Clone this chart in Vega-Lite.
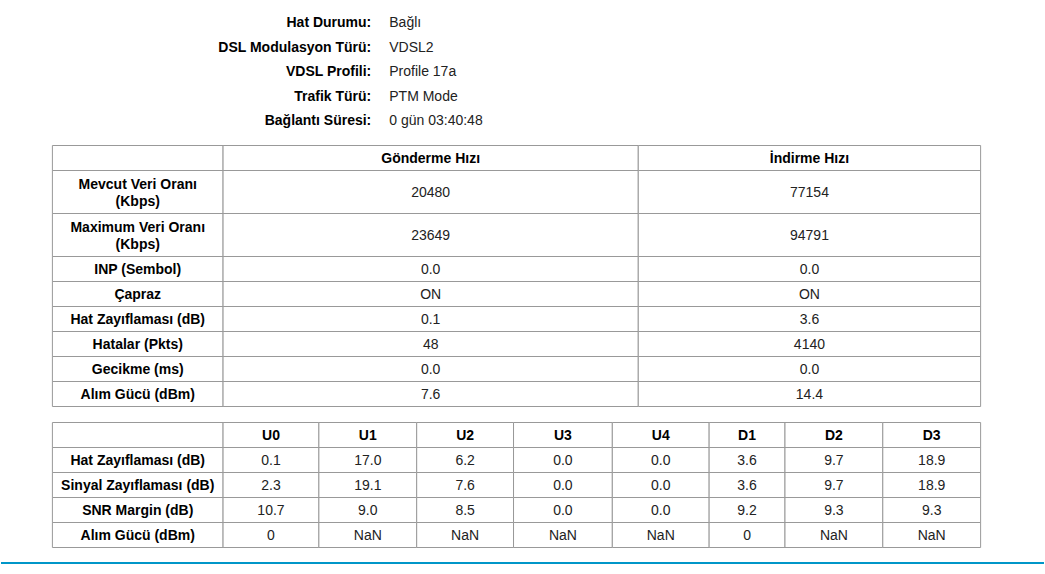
{
  "$schema": "https://vega.github.io/schema/vega-lite/v6.json",
  "width": 1045,
  "height": 574,
  "autosize": {"type": "fit", "contains": "padding"},
  "padding": 0,
  "background": "white",
  "config": {"view": {"stroke": null}, "text": {"font": "Liberation Sans", "fontSize": 14, "dy": 1}},
  "datasets": {
    "info": [
      {"label": "Hat Durumu:", "value": "Bağlı", "y": 22},
      {"label": "DSL Modulasyon Türü:", "value": "VDSL2", "y": 46.5},
      {"label": "VDSL Profili:", "value": "Profile 17a", "y": 71},
      {"label": "Trafik Türü:", "value": "PTM Mode", "y": 95.5},
      {"label": "Bağlantı Süresi:", "value": "0 gün 03:40:48", "y": 119.5}
    ],
    "cells": [
      {"x0": 51.5, "x1": 222.5, "y0": 145.5, "y1": 170.5, "kind": "header", "text": ""},
      {"x0": 222.5, "x1": 638.5, "y0": 145.5, "y1": 170.5, "kind": "header", "text": "Gönderme Hızı"},
      {"x0": 638.5, "x1": 981.5, "y0": 145.5, "y1": 170.5, "kind": "header", "text": "İndirme Hızı"},

      {"x0": 51.5, "x1": 222.5, "y0": 170.5, "y1": 213.5, "kind": "label", "text": "Mevcut Veri Oranı\n(Kbps)"},
      {"x0": 222.5, "x1": 638.5, "y0": 170.5, "y1": 213.5, "kind": "value", "text": "20480"},
      {"x0": 638.5, "x1": 981.5, "y0": 170.5, "y1": 213.5, "kind": "value", "text": "77154"},

      {"x0": 51.5, "x1": 222.5, "y0": 213.5, "y1": 256.5, "kind": "label", "text": "Maximum Veri Oranı\n(Kbps)"},
      {"x0": 222.5, "x1": 638.5, "y0": 213.5, "y1": 256.5, "kind": "value", "text": "23649"},
      {"x0": 638.5, "x1": 981.5, "y0": 213.5, "y1": 256.5, "kind": "value", "text": "94791"},

      {"x0": 51.5, "x1": 222.5, "y0": 256.5, "y1": 281.5, "kind": "label", "text": "INP (Sembol)"},
      {"x0": 222.5, "x1": 638.5, "y0": 256.5, "y1": 281.5, "kind": "value", "text": "0.0"},
      {"x0": 638.5, "x1": 981.5, "y0": 256.5, "y1": 281.5, "kind": "value", "text": "0.0"},

      {"x0": 51.5, "x1": 222.5, "y0": 281.5, "y1": 306.5, "kind": "label", "text": "Çapraz"},
      {"x0": 222.5, "x1": 638.5, "y0": 281.5, "y1": 306.5, "kind": "value", "text": "ON"},
      {"x0": 638.5, "x1": 981.5, "y0": 281.5, "y1": 306.5, "kind": "value", "text": "ON"},

      {"x0": 51.5, "x1": 222.5, "y0": 306.5, "y1": 331.5, "kind": "label", "text": "Hat Zayıflaması (dB)"},
      {"x0": 222.5, "x1": 638.5, "y0": 306.5, "y1": 331.5, "kind": "value", "text": "0.1"},
      {"x0": 638.5, "x1": 981.5, "y0": 306.5, "y1": 331.5, "kind": "value", "text": "3.6"},

      {"x0": 51.5, "x1": 222.5, "y0": 331.5, "y1": 356.5, "kind": "label", "text": "Hatalar (Pkts)"},
      {"x0": 222.5, "x1": 638.5, "y0": 331.5, "y1": 356.5, "kind": "value", "text": "48"},
      {"x0": 638.5, "x1": 981.5, "y0": 331.5, "y1": 356.5, "kind": "value", "text": "4140"},

      {"x0": 51.5, "x1": 222.5, "y0": 356.5, "y1": 381.5, "kind": "label", "text": "Gecikme (ms)"},
      {"x0": 222.5, "x1": 638.5, "y0": 356.5, "y1": 381.5, "kind": "value", "text": "0.0"},
      {"x0": 638.5, "x1": 981.5, "y0": 356.5, "y1": 381.5, "kind": "value", "text": "0.0"},

      {"x0": 51.5, "x1": 222.5, "y0": 381.5, "y1": 406.5, "kind": "label", "text": "Alım Gücü (dBm)"},
      {"x0": 222.5, "x1": 638.5, "y0": 381.5, "y1": 406.5, "kind": "value", "text": "7.6"},
      {"x0": 638.5, "x1": 981.5, "y0": 381.5, "y1": 406.5, "kind": "value", "text": "14.4"},

      {"x0": 51.5, "x1": 222.5, "y0": 422.5, "y1": 447.5, "kind": "header", "text": ""},
      {"x0": 222.5, "x1": 318.5, "y0": 422.5, "y1": 447.5, "kind": "header", "text": "U0"},
      {"x0": 318.5, "x1": 416.5, "y0": 422.5, "y1": 447.5, "kind": "header", "text": "U1"},
      {"x0": 416.5, "x1": 513.5, "y0": 422.5, "y1": 447.5, "kind": "header", "text": "U2"},
      {"x0": 513.5, "x1": 612.5, "y0": 422.5, "y1": 447.5, "kind": "header", "text": "U3"},
      {"x0": 612.5, "x1": 709.5, "y0": 422.5, "y1": 447.5, "kind": "header", "text": "U4"},
      {"x0": 709.5, "x1": 785.5, "y0": 422.5, "y1": 447.5, "kind": "header", "text": "D1"},
      {"x0": 785.5, "x1": 883.5, "y0": 422.5, "y1": 447.5, "kind": "header", "text": "D2"},
      {"x0": 883.5, "x1": 981.5, "y0": 422.5, "y1": 447.5, "kind": "header", "text": "D3"},

      {"x0": 51.5, "x1": 222.5, "y0": 447.5, "y1": 472.5, "kind": "label", "text": "Hat Zayıflaması (dB)"},
      {"x0": 222.5, "x1": 318.5, "y0": 447.5, "y1": 472.5, "kind": "value", "text": "0.1"},
      {"x0": 318.5, "x1": 416.5, "y0": 447.5, "y1": 472.5, "kind": "value", "text": "17.0"},
      {"x0": 416.5, "x1": 513.5, "y0": 447.5, "y1": 472.5, "kind": "value", "text": "6.2"},
      {"x0": 513.5, "x1": 612.5, "y0": 447.5, "y1": 472.5, "kind": "value", "text": "0.0"},
      {"x0": 612.5, "x1": 709.5, "y0": 447.5, "y1": 472.5, "kind": "value", "text": "0.0"},
      {"x0": 709.5, "x1": 785.5, "y0": 447.5, "y1": 472.5, "kind": "value", "text": "3.6"},
      {"x0": 785.5, "x1": 883.5, "y0": 447.5, "y1": 472.5, "kind": "value", "text": "9.7"},
      {"x0": 883.5, "x1": 981.5, "y0": 447.5, "y1": 472.5, "kind": "value", "text": "18.9"},

      {"x0": 51.5, "x1": 222.5, "y0": 472.5, "y1": 497.5, "kind": "label", "text": "Sinyal Zayıflaması (dB)"},
      {"x0": 222.5, "x1": 318.5, "y0": 472.5, "y1": 497.5, "kind": "value", "text": "2.3"},
      {"x0": 318.5, "x1": 416.5, "y0": 472.5, "y1": 497.5, "kind": "value", "text": "19.1"},
      {"x0": 416.5, "x1": 513.5, "y0": 472.5, "y1": 497.5, "kind": "value", "text": "7.6"},
      {"x0": 513.5, "x1": 612.5, "y0": 472.5, "y1": 497.5, "kind": "value", "text": "0.0"},
      {"x0": 612.5, "x1": 709.5, "y0": 472.5, "y1": 497.5, "kind": "value", "text": "0.0"},
      {"x0": 709.5, "x1": 785.5, "y0": 472.5, "y1": 497.5, "kind": "value", "text": "3.6"},
      {"x0": 785.5, "x1": 883.5, "y0": 472.5, "y1": 497.5, "kind": "value", "text": "9.7"},
      {"x0": 883.5, "x1": 981.5, "y0": 472.5, "y1": 497.5, "kind": "value", "text": "18.9"},

      {"x0": 51.5, "x1": 222.5, "y0": 497.5, "y1": 522.5, "kind": "label", "text": "SNR Margin (dB)"},
      {"x0": 222.5, "x1": 318.5, "y0": 497.5, "y1": 522.5, "kind": "value", "text": "10.7"},
      {"x0": 318.5, "x1": 416.5, "y0": 497.5, "y1": 522.5, "kind": "value", "text": "9.0"},
      {"x0": 416.5, "x1": 513.5, "y0": 497.5, "y1": 522.5, "kind": "value", "text": "8.5"},
      {"x0": 513.5, "x1": 612.5, "y0": 497.5, "y1": 522.5, "kind": "value", "text": "0.0"},
      {"x0": 612.5, "x1": 709.5, "y0": 497.5, "y1": 522.5, "kind": "value", "text": "0.0"},
      {"x0": 709.5, "x1": 785.5, "y0": 497.5, "y1": 522.5, "kind": "value", "text": "9.2"},
      {"x0": 785.5, "x1": 883.5, "y0": 497.5, "y1": 522.5, "kind": "value", "text": "9.3"},
      {"x0": 883.5, "x1": 981.5, "y0": 497.5, "y1": 522.5, "kind": "value", "text": "9.3"},

      {"x0": 51.5, "x1": 222.5, "y0": 522.5, "y1": 547.5, "kind": "label", "text": "Alım Gücü (dBm)"},
      {"x0": 222.5, "x1": 318.5, "y0": 522.5, "y1": 547.5, "kind": "value", "text": "0"},
      {"x0": 318.5, "x1": 416.5, "y0": 522.5, "y1": 547.5, "kind": "value", "text": "NaN"},
      {"x0": 416.5, "x1": 513.5, "y0": 522.5, "y1": 547.5, "kind": "value", "text": "NaN"},
      {"x0": 513.5, "x1": 612.5, "y0": 522.5, "y1": 547.5, "kind": "value", "text": "NaN"},
      {"x0": 612.5, "x1": 709.5, "y0": 522.5, "y1": 547.5, "kind": "value", "text": "NaN"},
      {"x0": 709.5, "x1": 785.5, "y0": 522.5, "y1": 547.5, "kind": "value", "text": "0"},
      {"x0": 785.5, "x1": 883.5, "y0": 522.5, "y1": 547.5, "kind": "value", "text": "NaN"},
      {"x0": 883.5, "x1": 981.5, "y0": 522.5, "y1": 547.5, "kind": "value", "text": "NaN"}
    ]
  },
  "layer": [
    {
      "data": {"name": "cells"},
      "mark": {"type": "rect", "fill": "white", "stroke": "#999999", "strokeWidth": 1},
      "encoding": {
        "x": {"field": "x0", "type": "quantitative", "scale": {"domain": [0, 1045], "nice": false, "zero": false}, "axis": null},
        "x2": {"field": "x1"},
        "y": {"field": "y0", "type": "quantitative", "scale": {"domain": [0, 574], "nice": false, "zero": false, "reverse": true}, "axis": null},
        "y2": {"field": "y1"}
      }
    },
    {
      "data": {"name": "cells"},
      "transform": [
        {"filter": "datum.kind !== 'value' && indexof(datum.text, '\\n') < 0"},
        {"calculate": "(datum.x0 + datum.x1) / 2", "as": "cx"},
        {"calculate": "(datum.y0 + datum.y1) / 2", "as": "cy"}
      ],
      "mark": {"type": "text", "fontWeight": "bold", "color": "#000000", "align": "center", "baseline": "middle"},
      "encoding": {
        "x": {"field": "cx", "type": "quantitative"},
        "y": {"field": "cy", "type": "quantitative"},
        "text": {"field": "text"}
      }
    },
    {
      "data": {"name": "cells"},
      "transform": [
        {"filter": "datum.kind === 'label' && indexof(datum.text, '\\n') >= 0"},
        {"calculate": "(datum.x0 + datum.x1) / 2", "as": "cx"},
        {"calculate": "(datum.y0 + datum.y1) / 2", "as": "cy"}
      ],
      "mark": {"type": "text", "fontWeight": "bold", "color": "#000000", "align": "center", "baseline": "middle", "lineBreak": "\n", "lineHeight": 17, "dy": -7.5},
      "encoding": {
        "x": {"field": "cx", "type": "quantitative"},
        "y": {"field": "cy", "type": "quantitative"},
        "text": {"field": "text"}
      }
    },
    {
      "data": {"name": "cells"},
      "transform": [
        {"filter": "datum.kind === 'value'"},
        {"calculate": "(datum.x0 + datum.x1) / 2", "as": "cx"},
        {"calculate": "(datum.y0 + datum.y1) / 2", "as": "cy"}
      ],
      "mark": {"type": "text", "color": "#222222", "align": "center", "baseline": "middle"},
      "encoding": {
        "x": {"field": "cx", "type": "quantitative"},
        "y": {"field": "cy", "type": "quantitative"},
        "text": {"field": "text"}
      }
    },
    {
      "data": {"name": "info"},
      "mark": {"type": "text", "fontWeight": "bold", "color": "#000000", "align": "right", "baseline": "middle"},
      "encoding": {
        "x": {"datum": 371},
        "y": {"field": "y", "type": "quantitative"},
        "text": {"field": "label"}
      }
    },
    {
      "data": {"name": "info"},
      "mark": {"type": "text", "color": "#222222", "align": "left", "baseline": "middle"},
      "encoding": {
        "x": {"datum": 389},
        "y": {"field": "y", "type": "quantitative"},
        "text": {"field": "value"}
      }
    },
    {
      "data": {"values": [{}]},
      "mark": {"type": "rule", "color": "#0096c8", "strokeWidth": 2},
      "encoding": {"y": {"datum": 563}}
    }
  ]
}
